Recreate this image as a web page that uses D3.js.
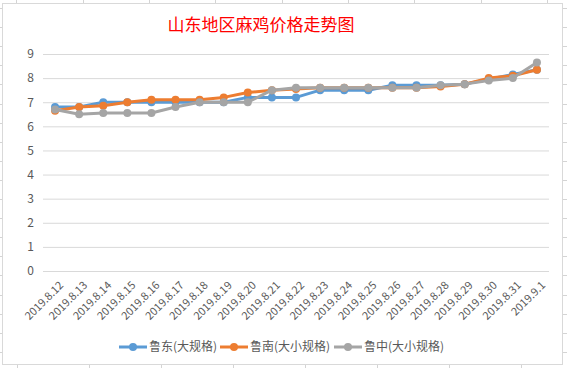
<!DOCTYPE html>
<html><head><meta charset="utf-8">
<script src="https://cdn.jsdelivr.net/npm/d3@7"></script>
<style>
html,body{margin:0;padding:0;background:#fff;}
svg{display:block;}
</style>
</head><body>
<svg id="c" width="567" height="368"></svg>
<script>
const title = "山东地区麻鸡价格走势图";
const categories = ["2019.8.12","2019.8.13","2019.8.14","2019.8.15","2019.8.16","2019.8.17","2019.8.18","2019.8.19","2019.8.20","2019.8.21","2019.8.22","2019.8.23","2019.8.24","2019.8.25","2019.8.26","2019.8.27","2019.8.28","2019.8.29","2019.8.30","2019.8.31","2019.9.1"];
const seriesNames = ["鲁东(大规格)","鲁南(大小规格)","鲁中(大小规格)"];
const ludong  = [6.8,6.8,7.0,7.0,7.0,7.0,7.0,7.0,7.2,7.2,7.2,7.5,7.5,7.5,7.7,7.7,7.7,7.75,7.95,8.15,8.35];
const lunan   = [6.65,6.8,6.85,7.0,7.1,7.1,7.1,7.2,7.4,7.5,7.55,7.6,7.6,7.6,7.6,7.6,7.65,7.75,8.0,8.1,8.35];
const luzhong = [6.7,6.5,6.55,6.55,6.55,6.8,7.0,7.0,7.0,7.5,7.6,7.6,7.6,7.6,7.6,7.6,7.7,7.75,7.9,8.0,8.65];
const yTicks = [0,1,2,3,4,5,6,7,8,9];
const colors = ["#5B9BD5","#ED7D31","#A5A5A5"];

const svg = d3.select("#c");
const font = "'Noto Sans CJK SC','Noto Sans',sans-serif";

// spreadsheet cell lines outside the chart
const cellLine = "#d4d4d4";
[16,83,149,215,282,348,414,481,547].forEach(x=>svg.append("line").attr("x1",x+0.5).attr("x2",x+0.5).attr("y1",0).attr("y2",3).attr("stroke",cellLine));
[17,89,161,233,305,377,449,521].forEach(x=>svg.append("line").attr("x1",x+0.5).attr("x2",x+0.5).attr("y1",365).attr("y2",368).attr("stroke",cellLine));
d3.range(0,19).forEach(k=>{const y=Math.round(8+19.1*k)+0.5;
  svg.append("line").attr("x1",0).attr("x2",2).attr("y1",y).attr("y2",y).attr("stroke",cellLine);
  svg.append("line").attr("x1",563).attr("x2",567).attr("y1",y).attr("y2",y).attr("stroke",cellLine);});

// chart border
svg.append("rect").attr("x",2.5).attr("y",3.5).attr("width",560).attr("height",361)
  .attr("fill","#fff").attr("stroke","#d9d9d9");

// title
svg.append("text").attr("x",261).attr("y",31).attr("text-anchor","middle")
  .attr("font-family",font).attr("font-size",17).attr("fill","#FF0000").text(title);

const x = d3.scaleBand().domain(categories).range([43,549]).padding(0);
const y = d3.scaleLinear().domain([0,9]).range([271,54]);
const cx = d => x(d)+x.bandwidth()/2;

// gridlines
const gy = svg.append("g").attr("transform","translate(43,0)")
  .call(d3.axisLeft(y).tickValues(yTicks).tickSize(-506).tickFormat(d3.format("d")).tickPadding(9));
gy.select(".domain").remove();
gy.selectAll(".tick line").attr("stroke","#d9d9d9").attr("stroke-width",1);
gy.selectAll(".tick text").attr("font-family",font).attr("font-size",12).attr("fill","#595959");

// x labels
const gx = svg.append("g").attr("transform","translate(0,271)")
  .call(d3.axisBottom(x).tickSize(0).tickPadding(0));
gx.select(".domain").remove();
gx.selectAll(".tick text")
  .attr("font-family",font).attr("font-size",11).attr("fill","#595959")
  .attr("text-anchor","end").attr("y",0).attr("dy",0)
  .attr("transform","translate(9,15) rotate(-45)");

// series
const data = [ludong,lunan,luzhong];
const line = d3.line().x((d,i)=>cx(categories[i])).y(d=>y(d));
data.forEach((vals,s)=>{
  const g = svg.append("g");
  g.append("path").attr("d",line(vals)).attr("fill","none").attr("stroke",colors[s])
   .attr("stroke-width",3).attr("stroke-linejoin","round").attr("stroke-linecap","round");
  g.selectAll("circle").data(vals).join("circle")
   .attr("cx",(d,i)=>cx(categories[i])).attr("cy",d=>y(d)).attr("r",4).attr("fill",colors[s]);
});

// legend
const legX = [119,220,334];
const lg = svg.append("g");
seriesNames.forEach((n,i)=>{
  const lx = legX[i], ly = 347;
  lg.append("line").attr("x1",lx).attr("x2",lx+28).attr("y1",ly).attr("y2",ly).attr("stroke",colors[i]).attr("stroke-width",3);
  lg.append("circle").attr("cx",lx+14).attr("cy",ly).attr("r",4).attr("fill",colors[i]);
  lg.append("text").attr("x",lx+30).attr("y",ly).attr("dy","0.35em").attr("font-family",font)
    .attr("font-size",12).attr("fill","#595959").text(n);
});
</script>
</body></html>
